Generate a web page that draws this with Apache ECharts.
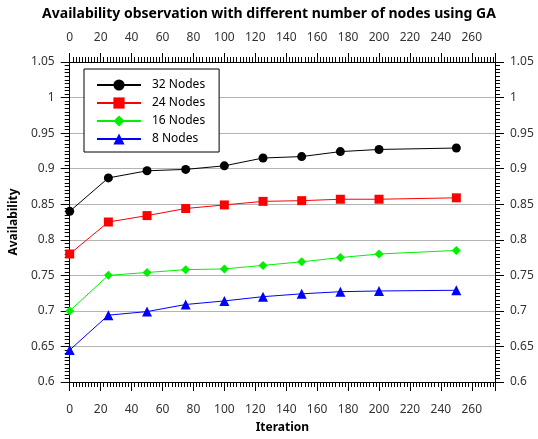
<!DOCTYPE html>
<html><head><meta charset="utf-8">
<script src="https://cdn.jsdelivr.net/npm/echarts@6/dist/echarts.min.js"></script>
<style>html,body{margin:0;padding:0;background:#fff}#c{width:538px;height:439px}</style>
</head><body><div id="c"></div>
<script>
const iterations = [0, 25, 50, 75, 100, 125, 150, 175, 200, 250];
const nodes32 = [0.84, 0.887, 0.897, 0.899, 0.904, 0.915, 0.917, 0.924, 0.927, 0.929];
const nodes24 = [0.78, 0.825, 0.834, 0.844, 0.849, 0.854, 0.855, 0.857, 0.857, 0.859];
const nodes16 = [0.70, 0.75, 0.754, 0.758, 0.759, 0.764, 0.769, 0.775, 0.78, 0.785];
const nodes8 = [0.645, 0.694, 0.699, 0.709, 0.714, 0.72, 0.724, 0.727, 0.728, 0.729];
const seriesNames = ['32 Nodes', '24 Nodes', '16 Nodes', '8 Nodes'];

const font = 'Noto Sans';
const chart = echarts.init(document.getElementById('c'));
const xBase = {
  type: 'value', min: 0, max: 275, interval: 20,
  axisLine: {show: true, onZero: false, lineStyle: {color: '#000', width: 1}},
  axisTick: {show: true, length: 9, lineStyle: {color: '#000'}},
  minorTick: {show: true, splitNumber: 10, length: 5, lineStyle: {color: '#000'}},
  splitLine: {show: false},
  axisLabel: {color: '#333', fontFamily: font, fontSize: 12, margin: 22,
    showMaxLabel: false}
};
const yBase = {
  type: 'value', min: 0.6, max: 1.05, interval: 0.05,
  axisLine: {show: true, onZero: false, lineStyle: {color: '#000', width: 1}},
  axisTick: {show: true, length: 9, lineStyle: {color: '#000'}},
  minorTick: {show: true, splitNumber: 10, length: 5, lineStyle: {color: '#000'}},
  axisLabel: {color: '#333', fontFamily: font, fontSize: 12, margin: 15,
    formatter: v => String(parseFloat(v.toFixed(2)))}
};
function mk(name, data, color, symbol, size) {
  return {
    name, type: 'line', data: iterations.map((x, i) => [x, data[i]]),
    symbol, symbolSize: size, showSymbol: true,
    lineStyle: {color, width: 1}, itemStyle: {color},
    z: 3
  };
}
chart.setOption({
  animation: false,
  title: {text: 'Availability observation with different number of nodes using GA',
    left: 'center', top: 2,
    textStyle: {fontFamily: font, fontSize: 14, fontWeight: 'bold', color: '#000'}},
  grid: {left: 67, right: 43, top: 62, bottom: 56},
  legend: {
    orient: 'vertical', left: 84, top: 69, width: 138,
    padding: [10, 14, 7, 12], itemGap: 6, itemWidth: 44, itemHeight: 14,
    borderColor: '#000', borderWidth: 1, backgroundColor: '#fff',
    textStyle: {fontFamily: font, fontSize: 12, color: '#000', padding: [0, 0, 0, 6]},
    data: seriesNames
  },
  xAxis: [
    Object.assign({}, xBase, {position: 'bottom', name: 'Iteration', nameLocation: 'middle', nameGap: 40,
      nameTextStyle: {fontFamily: font, fontSize: 12, fontWeight: 'bold', color: '#000'}}),
    Object.assign({}, xBase, {position: 'top', axisLabel: Object.assign({}, xBase.axisLabel, {margin: 18})})
  ],
  yAxis: [
    Object.assign({}, yBase, {position: 'left', name: 'Availability', nameLocation: 'middle', nameGap: 42,
      nameTextStyle: {fontFamily: font, fontSize: 12, fontWeight: 'bold', color: '#000'},
      splitLine: {show: true, lineStyle: {color: '#b4b4b4', width: 1}}}),
    Object.assign({}, yBase, {position: 'right', splitLine: {show: false}})
  ],
  series: [
    mk(seriesNames[0], nodes32, '#000000', 'circle', 9),
    mk(seriesNames[1], nodes24, '#ff0000', 'rect', 9),
    mk(seriesNames[2], nodes16, '#00f000', 'diamond', 9),
    mk(seriesNames[3], nodes8, '#0000ff', 'triangle', 10)
  ]
});
</script></body></html>
